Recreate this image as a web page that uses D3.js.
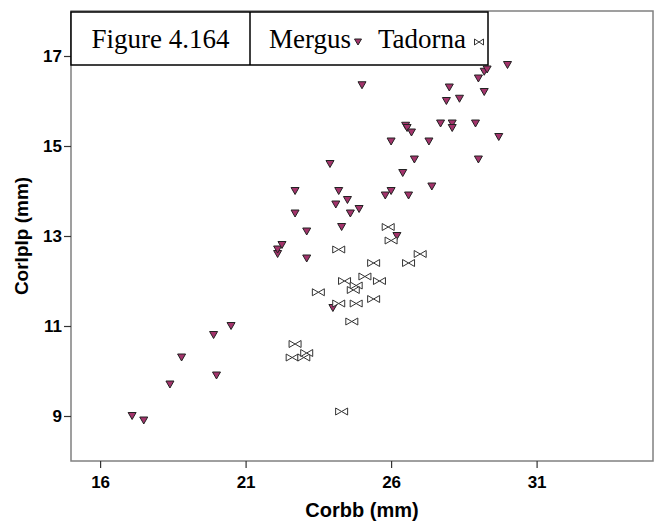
<!DOCTYPE html>
<html>
<head>
<meta charset="utf-8">
<script src="https://cdn.jsdelivr.net/npm/d3@7"></script>
<style>
  html, body { margin: 0; padding: 0; background: #fff; }
  svg { display: block; }
</style>
</head>
<body>
<svg id="chart" width="662" height="524"></svg>
<script>
// ---------------------------------------------------------------------------
// Data
// ---------------------------------------------------------------------------

// Mergus: [Corbb, Corlplp] in mm
const mergus = [
  [17.1, 9.0], [17.5, 8.9], [18.4, 9.7], [18.8, 10.3], [19.9, 10.8],
  [20.0, 9.9], [20.5, 11.0], [22.1, 12.6], [22.1, 12.7], [22.25, 12.8],
  [22.7, 14.0], [22.7, 13.5], [23.1, 13.1], [23.1, 12.5], [23.9, 14.6],
  [24.1, 13.7], [24.2, 14.0], [24.3, 13.2], [24.5, 13.8], [24.6, 13.5],
  [24.9, 13.6], [25.0, 16.35], [24.0, 11.4], [25.8, 13.9], [26.0, 14.0],
  [26.0, 15.1], [26.2, 13.0], [26.4, 14.4], [26.5, 15.45], [26.55, 15.4],
  [26.7, 15.3], [26.6, 13.9], [26.8, 14.7], [27.3, 15.1], [27.4, 14.1],
  [27.7, 15.5], [27.9, 16.0], [28.0, 16.3], [28.1, 15.5], [28.1, 15.4],
  [28.35, 16.05], [28.9, 15.5], [29.0, 14.7], [29.0, 16.5], [29.2, 16.65],
  [29.3, 16.7], [29.2, 16.2], [29.7, 15.2], [30.0, 16.8]
];

// Tadorna: [Corbb, Corlplp] in mm
const tadorna = [
  [25.9, 13.2], [26.0, 12.9], [27.0, 12.6], [24.2, 12.7], [25.4, 12.4],
  [26.6, 12.4], [25.1, 12.1], [25.6, 12.0], [24.4, 12.0], [24.8, 11.9],
  [24.7, 11.8], [23.5, 11.75], [24.2, 11.5], [24.8, 11.5], [25.4, 11.6],
  [24.65, 11.1], [22.7, 10.6], [22.6, 10.3], [23.0, 10.3], [23.1, 10.4],
  [24.3, 9.1]
];

const xTicks = [16, 21, 26, 31];
const yTicks = [9, 11, 13, 15, 17];
const xDomain = [15, 35];
const yDomain = [8, 18];

const figureLabel = 'Figure 4.164';
const seriesNames = ['Mergus', 'Tadorna'];
const xTitle = 'Corbb (mm)';
const yTitle = 'Corlplp (mm)';

// ---------------------------------------------------------------------------
// Layout
// ---------------------------------------------------------------------------

const plot = { left: 71, right: 653, top: 11, bottom: 461 };
const SANS = '"Liberation Sans", Arial, sans-serif';
const SERIF = '"Liberation Serif", "Times New Roman", serif';
const MERGUS_FILL = '#a3336b';

const svg = d3.select('#chart');

const x = d3.scaleLinear().domain(xDomain).range([plot.left, plot.right]);
const y = d3.scaleLinear().domain(yDomain).range([plot.bottom, plot.top]);

// marker shapes
function triPath(w, h) {
  return `M${-w / 2},${-h / 2}L${w / 2},${-h / 2}L0,${h / 2}Z`;
}
function bowPath(w, h) {
  return `M${-w / 2},${-h / 2}L0,0L${-w / 2},${h / 2}Z` +
         `M${w / 2},${-h / 2}L0,0L${w / 2},${h / 2}Z`;
}

// frame
svg.append('rect')
  .attr('x', plot.left).attr('y', plot.top)
  .attr('width', plot.right - plot.left).attr('height', plot.bottom - plot.top)
  .attr('fill', 'none').attr('stroke', '#808080').attr('stroke-width', 1.5);

// axes
const xAx = svg.append('g')
  .attr('transform', `translate(0,${plot.bottom})`)
  .call(d3.axisBottom(x).tickValues(xTicks).tickSize(7).tickPadding(8));
const yAx = svg.append('g')
  .attr('transform', `translate(${plot.left},0)`)
  .call(d3.axisLeft(y).tickValues(yTicks).tickSize(7).tickPadding(2));

[xAx, yAx].forEach(sel => {
  sel.select('.domain').remove();
  sel.selectAll('.tick line').attr('stroke', '#333').attr('stroke-width', 1.2);
  sel.selectAll('text')
    .attr('fill', '#000')
    .style('font-family', SANS)
    .style('font-size', '17px')
    .style('font-weight', 'bold');
});

// axis titles
svg.append('text')
  .attr('x', (plot.left + plot.right) / 2).attr('y', 517)
  .attr('text-anchor', 'middle')
  .style('font-family', SANS).style('font-size', '20px').style('font-weight', 'bold')
  .text(xTitle);

svg.append('text')
  .attr('transform', `translate(28,${(plot.top + plot.bottom) / 2}) rotate(-90)`)
  .attr('text-anchor', 'middle')
  .style('font-family', SANS).style('font-size', '19px').style('font-weight', 'bold')
  .text(yTitle);

// points
svg.append('g').selectAll('path')
  .data(mergus).join('path')
  .attr('d', triPath(8, 7))
  .attr('transform', d => `translate(${x(d[0])},${y(d[1])})`)
  .attr('fill', MERGUS_FILL).attr('stroke', '#222').attr('stroke-width', 1);

svg.append('g').selectAll('path')
  .data(tadorna).join('path')
  .attr('d', bowPath(12, 7))
  .attr('transform', d => `translate(${x(d[0])},${y(d[1])})`)
  .attr('fill', '#fff').attr('stroke', '#333').attr('stroke-width', 1);

// legend box
const leg = { x0: 71, x1: 488, div: 250, y0: 12, y1: 65 };
svg.append('rect')
  .attr('x', leg.x0).attr('y', leg.y0)
  .attr('width', leg.x1 - leg.x0).attr('height', leg.y1 - leg.y0)
  .attr('fill', '#fff').attr('stroke', '#000').attr('stroke-width', 1.5);
svg.append('line')
  .attr('x1', leg.div).attr('x2', leg.div).attr('y1', leg.y0).attr('y2', leg.y1)
  .attr('stroke', '#000').attr('stroke-width', 1.5);

svg.append('text')
  .attr('x', (leg.x0 + leg.div) / 2).attr('y', 48)
  .attr('text-anchor', 'middle')
  .style('font-family', SERIF).style('font-size', '27px')
  .text(figureLabel);

svg.append('text')
  .attr('x', 269).attr('y', 48)
  .style('font-family', SERIF).style('font-size', '27px')
  .text(seriesNames[0]);
svg.append('path')
  .attr('d', triPath(7, 6))
  .attr('transform', 'translate(358,42)')
  .attr('fill', MERGUS_FILL).attr('stroke', '#222').attr('stroke-width', 1);

svg.append('text')
  .attr('x', 378).attr('y', 48)
  .style('font-family', SERIF).style('font-size', '27px')
  .text(seriesNames[1]);
svg.append('path')
  .attr('d', bowPath(9, 6))
  .attr('transform', 'translate(479,42)')
  .attr('fill', '#fff').attr('stroke', '#333').attr('stroke-width', 1);
</script>
</body>
</html>
